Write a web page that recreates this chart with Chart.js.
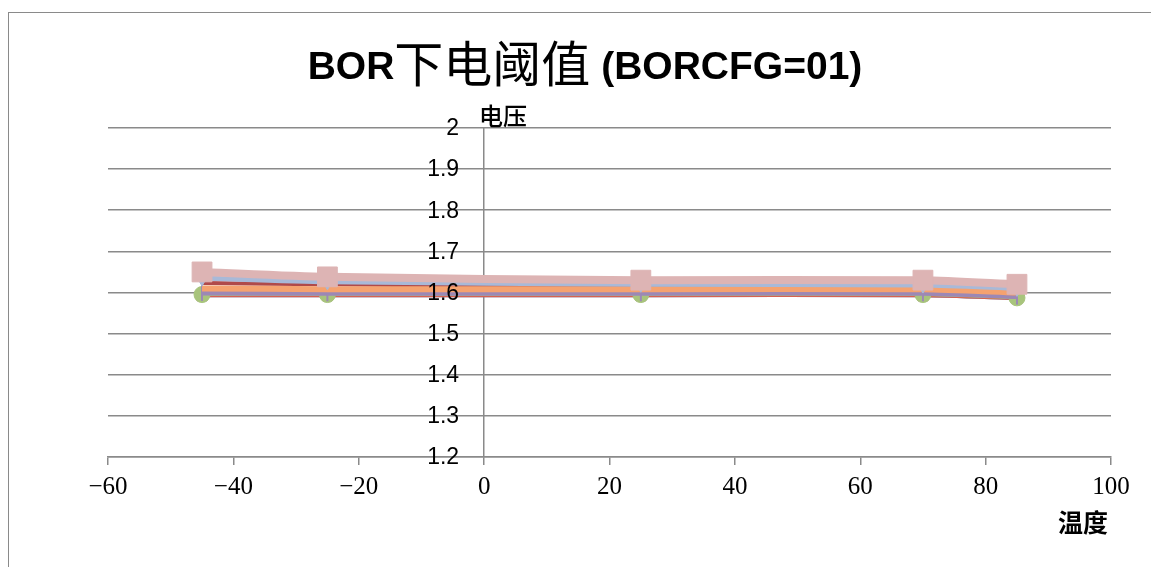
<!DOCTYPE html>
<html lang="zh-CN">
<head>
<meta charset="UTF-8">
<title>BOR下电阈值</title>
<script src="https://cdn.jsdelivr.net/npm/chart.js"></script>
<style>
  html, body { margin: 0; padding: 0; background: #fff; }
</style>
</head>
<body>
<canvas id="borChart" width="1151" height="567"></canvas>
<script>
// temperature points (x) and measured voltages per sample (y)
const temps = [-45, -25, 25, 70, 85];
const voltPink   = [1.650, 1.638, 1.630, 1.630, 1.620];
const voltLtBlue = [1.635, 1.626, 1.620, 1.618, 1.610];
const voltOrange = [1.610, 1.608, 1.608, 1.608, 1.600];
const voltPurple = [1.599, 1.598, 1.598, 1.598, 1.590];
const voltRed    = [1.623, 1.620, 1.612, 1.612, 1.602];
const voltGreen  = [1.595, 1.595, 1.595, 1.595, 1.587];
const voltBlueX  = [1.592, 1.592, 1.592, 1.592, 1.585];
const voltRedX   = [1.592, 1.592, 1.592, 1.592, 1.585];

const yTicks = [1.2, 1.3, 1.4, 1.5, 1.6, 1.7, 1.8, 1.9, 2];
const titleText = 'BOR下电阈值 (BORCFG=01)';
const yTitle = '电压';
const xTitle = '温度';

function pts(vals) {
  return vals.map((v, i) => ({ x: temps[i], y: v }));
}

// bottom to top, same order Excel painted them
const series = [
  { data: voltBlueX,  color: '#5A86C5', width: 3, style: 'crossRot', r: 7 },
  { data: voltRedX,   color: '#D8614F', width: 3, style: 'crossRot', r: 7 },
  { data: voltGreen,  color: '#A8C47C', width: 3, style: 'circle', r: 8 },
  { data: voltRed,    color: '#B04A4A', width: 4, style: false, r: 0 },
  { data: voltPurple, color: '#9C88B5', width: 5, style: 'line', r: 8, rot: 90 },
  { data: voltOrange, color: '#F5A26F', width: 6, style: false, r: 0 },
  { data: voltLtBlue, color: '#A8B9D8', width: 5, style: 'triangle', r: 8, rot: 180 },
  { data: voltPink,   color: '#DDB4B4', width: 8, style: 'rect', r: 14 }
];

const datasets = series.map((s, i) => ({
  data: pts(s.data),
  borderColor: s.color,
  backgroundColor: s.color,
  borderWidth: s.width,
  pointStyle: s.style,
  pointRadius: s.r,
  pointRotation: s.rot || 0,
  pointBorderWidth: s.style === 'crossRot' || s.style === 'line' ? 2 : 1,
  pointBorderColor: s.color,
  pointBackgroundColor: s.color,
  tension: 0.25,
  order: series.length - i
}));

const GRID = '#8a8a8a';
const LATIN = "bold 39px 'Liberation Sans'";
const CJK = "49px 'Noto Sans CJK SC'";

const decor = {
  id: 'decor',
  beforeDraw(chart) {
    const ctx = chart.ctx;
    ctx.save();
    ctx.fillStyle = '#fff';
    ctx.fillRect(0, 0, chart.width, chart.height);
    ctx.strokeStyle = GRID;
    ctx.lineWidth = 1;
    ctx.strokeRect(8.5, 12.5, 1200, 600);
    ctx.restore();
  },
  afterDraw(chart) {
    const ctx = chart.ctx;
    const ys = chart.scales.y;
    const xs = chart.scales.x;
    const axisX = xs.getPixelForValue(0);
    ctx.save();
    ctx.fillStyle = '#000';
    // title: latin and CJK runs get their own fonts, like the Office chart
    const runs = titleText.match(/[\u4e00-\u9fff]+|[^\u4e00-\u9fff]+/g);
    let total = 0;
    const widths = runs.map(r => {
      ctx.font = /[\u4e00-\u9fff]/.test(r) ? CJK : LATIN;
      const w = ctx.measureText(r).width;
      total += w;
      return w;
    });
    let tx = 585 - total / 2;
    ctx.textAlign = 'left';
    ctx.textBaseline = 'alphabetic';
    runs.forEach((r, i) => {
      const cjk = /[\u4e00-\u9fff]/.test(r);
      ctx.font = cjk ? CJK : LATIN;
      ctx.fillText(r, tx, cjk ? 82 : 79);
      tx += widths[i];
    });
    // y tick labels, left of the centred axis
    ctx.font = "23px 'Liberation Sans'";
    ctx.textAlign = 'right';
    ctx.textBaseline = 'middle';
    yTicks.forEach(v => {
      ctx.fillText(String(v), axisX - 25, ys.getPixelForValue(v) + 1);
    });
    // axis titles
    ctx.font = "500 24px 'Noto Sans CJK SC'";
    ctx.textAlign = 'left';
    ctx.fillText(yTitle, 479, 116);
    ctx.font = "bold 25px 'Noto Sans CJK SC'";
    ctx.textAlign = 'center';
    ctx.fillText(xTitle, 1083, 522);
    ctx.restore();
  }
};

new Chart(document.getElementById('borChart'), {
  type: 'line',
  data: { datasets: datasets },
  plugins: [decor],
  options: {
    responsive: false,
    animation: false,
    layout: { padding: { left: 108, right: 40, top: 128, bottom: 50 } },
    plugins: {
      legend: { display: false },
      tooltip: { enabled: false },
      title: { display: false }
    },
    scales: {
      x: {
        type: 'linear',
        position: 'bottom',
        min: -60,
        max: 100,
        afterFit: s => { s.height = 60; },
        ticks: {
          stepSize: 20,
          padding: 7,
          color: '#000',
          font: { family: "'Liberation Serif'", size: 25 },
          callback: v => (v < 0 ? '\u2212' + Math.abs(v) : String(v))
        },
        grid: { drawOnChartArea: false, drawTicks: true, tickLength: 8, color: GRID, lineWidth: 1.5 },
        border: { color: GRID, width: 1.5 }
      },
      y: {
        type: 'linear',
        position: { x: 0 },
        min: 1.2,
        max: 2,
        ticks: { stepSize: 0.1, display: false },
        grid: { color: GRID, lineWidth: 1.5, drawTicks: false },
        border: { color: GRID, width: 1.5 }
      }
    }
  }
});
</script>
</body>
</html>
